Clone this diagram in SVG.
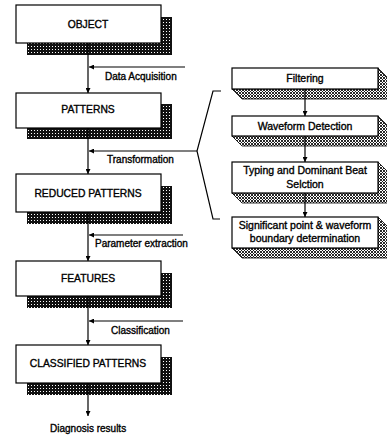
<svg xmlns="http://www.w3.org/2000/svg" width="387" height="437" viewBox="0 0 387 437">
<defs>
<pattern id="hatchL" width="3" height="3" patternUnits="userSpaceOnUse">
<rect width="3" height="3" fill="#111"/>
<rect x="1" y="1" width="1" height="1" fill="#fff"/>
</pattern>
<pattern id="hatchR" width="3" height="3" patternUnits="userSpaceOnUse">
<rect width="3" height="3" fill="#fff"/>
<path d="M0,0 L3,3 M3,0 L0,3" stroke="#111" stroke-width="0.9"/>
</pattern>
<marker id="arr" viewBox="0 0 10 10" refX="10" refY="5" markerWidth="5" markerHeight="5" orient="auto" markerUnits="userSpaceOnUse">
<path d="M0,0 L10,5 L0,10 z" fill="#000"/>
</marker>
</defs>
<style>
.box{fill:#fff;stroke:#000;stroke-width:1.2}
.shL{fill:url(#hatchL)}
.shR{fill:url(#hatchR);stroke:#000;stroke-width:0.8}
.t{font-family:"Liberation Sans",Arial,sans-serif;font-size:10.3px;fill:#000;stroke:#000;stroke-width:0.35;text-anchor:middle}
.tr{font-family:"Liberation Sans",Arial,sans-serif;font-size:10.5px;fill:#000;stroke:#000;stroke-width:0.35;text-anchor:middle}
.l{font-family:"Liberation Sans",Arial,sans-serif;font-size:10px;fill:#000;stroke:#000;stroke-width:0.35}
.ln{stroke:#000;stroke-width:1.2;fill:none}
</style>

<g id="object">
<rect class="shL" x="27" y="17" width="145" height="38"/>
<rect class="box" x="16" y="5" width="145" height="38"/>
<text class="t" x="88" y="27.5">OBJECT</text>
</g>
<g id="patterns">
<rect class="shL" x="27" y="104" width="145" height="35"/>
<rect class="box" x="16" y="93" width="145" height="35"/>
<text class="t" x="88" y="113">PATTERNS</text>
</g>
<g id="reduced">
<rect class="shL" x="27" y="186" width="145" height="38"/>
<rect class="box" x="16" y="174" width="145" height="38"/>
<text class="t" x="88" y="196.5">REDUCED PATTERNS</text>
</g>
<g id="features">
<rect class="shL" x="27" y="273" width="145" height="35"/>
<rect class="box" x="16" y="261" width="145" height="35"/>
<text class="t" x="88" y="282">FEATURES</text>
</g>
<g id="classified">
<rect class="shL" x="27" y="357" width="145" height="38"/>
<rect class="box" x="16" y="345" width="145" height="38"/>
<text class="t" x="88" y="367">CLASSIFIED PATTERNS</text>
</g>

<g id="filtering">
<polygon class="shR" points="232,89 378,89 378,68 388,78 388,99 242,99"/>
<rect class="box" x="232" y="68" width="146" height="21"/>
<text class="tr" x="305" y="82">Filtering</text>
</g>
<g id="waveform">
<polygon class="shR" points="232,136 378,136 378,116 388,126 388,146 242,146"/>
<rect class="box" x="232" y="116" width="146" height="20"/>
<text class="tr" x="305" y="129.5">Waveform Detection</text>
</g>
<g id="typing">
<polygon class="shR" points="232,193 378,193 378,162 388,172 388,203 242,203"/>
<rect class="box" x="232" y="162" width="146" height="31"/>
<text class="tr" x="305" y="174">Typing and Dominant Beat</text>
<text class="tr" x="305" y="188">Selction</text>
</g>
<g id="significant">
<polygon class="shR" points="232,248 378,248 378,217 388,227 388,258 242,258"/>
<rect class="box" x="232" y="217" width="146" height="31"/>
<text class="tr" x="305" y="229">Significant point &amp; waveform</text>
<text class="tr" x="305" y="242">boundary determination</text>
</g>

<g id="connectors">
<line class="ln" x1="88" y1="43" x2="88" y2="93" marker-end="url(#arr)"/>
<line class="ln" x1="88" y1="128" x2="88" y2="174" marker-end="url(#arr)"/>
<line class="ln" x1="88" y1="212" x2="88" y2="261" marker-end="url(#arr)"/>
<line class="ln" x1="88" y1="296" x2="88" y2="345" marker-end="url(#arr)"/>
<line class="ln" x1="88" y1="383" x2="88" y2="416" marker-end="url(#arr)"/>
<line class="ln" x1="185" y1="67" x2="89" y2="67" marker-end="url(#arr)"/>
<line class="ln" x1="197" y1="151" x2="89" y2="151" marker-end="url(#arr)"/>
<line class="ln" x1="183" y1="235" x2="89" y2="235" marker-end="url(#arr)"/>
<line class="ln" x1="183" y1="321" x2="89" y2="321" marker-end="url(#arr)"/>
<polyline class="ln" points="221,91 213,91 197,151 213,219 220,219"/>
<line class="ln" x1="305" y1="89" x2="305" y2="116" marker-end="url(#arr)"/>
<line class="ln" x1="305" y1="136" x2="305" y2="162" marker-end="url(#arr)"/>
<line class="ln" x1="305" y1="193" x2="305" y2="217" marker-end="url(#arr)"/>
<text class="l" x="105" y="80">Data Acquisition</text>
<text class="l" x="107" y="162.5">Transformation</text>
<text class="l" x="95" y="246.5">Parameter extraction</text>
<text class="l" x="111" y="333.5">Classification</text>
<text class="l" x="50" y="432">Diagnosis results</text>
</g>
</svg>
